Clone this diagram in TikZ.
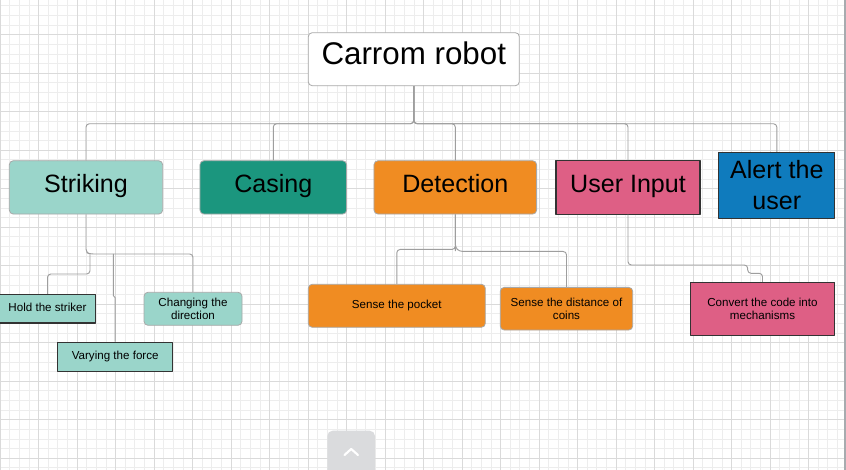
\documentclass[tikz,border=0pt]{standalone}
\usepackage{fontspec}
\setmainfont{Liberation Sans}
\begin{document}
\begin{tikzpicture}
    [x=0.75pt,y=-0.75pt,line join=round,
    % Styles
    grid minor/.style={draw=gridminor,line width=0.5pt},
    grid major/.style={draw=gridmajor,line width=0.6pt},
    branch line/.style={draw=linkgray,line width=0.7pt,rounded corners=2.5pt},
    box/.style={inner sep=0pt,align=center,text=black},
    soft box/.style={box,draw=softgray,line width=0.6pt,rounded corners=3pt},
    hard box/.style={box,draw=hardgray,line width=0.8pt},
    big text/.style={font=\fontsize{18.8}{23}\selectfont,text height=13.5pt,text depth=5.5pt},
    small text/.style={font=\fontsize{8.7}{10}\selectfont},
    one line/.style={text height=6.3pt,text depth=2.85pt}]
    % Colors
    \definecolor{gridminor}{HTML}{EDEDED}
    \definecolor{gridmajor}{HTML}{DADADA}
    \definecolor{linkgray}{HTML}{9E9E9E}
    \definecolor{softgray}{HTML}{A8A8A8}
    \definecolor{hardgray}{HTML}{333333}
    \definecolor{mintcolor}{HTML}{9AD5CA}
    \definecolor{tealcolor}{HTML}{1B967E}
    \definecolor{orangecolor}{HTML}{F08C22}
    \definecolor{pinkcolor}{HTML}{DE5F85}
    \definecolor{bluecolor}{HTML}{0F7BBD}
    \definecolor{buttoncolor}{HTML}{DADBDD}
    \definecolor{barcolor}{HTML}{A7ABAF}
    % The paper
    \useasboundingbox[fill=white] (0,0) rectangle (846,470);
    \foreach \i in {0,...,88}
      \draw[grid minor] ({\i*9.625},0) -- ({\i*9.625},470);
    \foreach \j in {0,...,49}
      \draw[grid minor] (0,{\j*9.625-3.8}) -- (846,{\j*9.625-3.8});
    \foreach \i in {0,...,22}
      \draw[grid major] ({\i*38.5},0) -- ({\i*38.5},470);
    \foreach \j in {1,...,12}
      \draw[grid major] (0,{\j*38.5-3.8}) -- (846,{\j*38.5-3.8});
    % The graphic
    \node[soft box,fill=white,minimum width=158.3pt,minimum height=39.8pt,
      font=\fontsize{23.5}{28}\selectfont,text height=17pt,text depth=8.3pt]
      (root) at (413.8,59.2) {Carrom robot};
    \node[soft box,big text,fill=mintcolor,minimum width=115pt,minimum height=40pt]
      (striking) at (86,187.4) {Striking};
    \node[soft box,big text,fill=tealcolor,minimum width=110pt,minimum height=40pt]
      (casing) at (273.3,187.4) {Casing};
    \node[soft box,big text,fill=orangecolor,minimum width=122pt,minimum height=40pt]
      (detection) at (455.3,187.4) {Detection};
    \node[hard box,big text,fill=pinkcolor,minimum width=108pt,minimum height=40pt]
      (userinput) at (628,187.4) {User Input};
    \node[hard box,font=\fontsize{18.8}{23}\selectfont,fill=bluecolor,
      minimum width=86.8pt,minimum height=49.5pt] (alert) at (776.8,185.3) {Alert the\\user};
    \node[hard box,small text,one line,fill=mintcolor,minimum width=72pt,minimum height=21.5pt]
      (hold) at (47.5,308.7) {Hold the striker};
    \node[hard box,small text,one line,fill=mintcolor,minimum width=86.3pt,minimum height=21.8pt]
      (varying) at (115.2,356.8) {Varying the force};
    \node[soft box,small text,fill=mintcolor,minimum width=73.5pt,minimum height=24.8pt]
      (changing) at (193,308.8) {Changing the\\direction};
    \node[soft box,small text,one line,fill=orangecolor,minimum width=132.8pt,minimum height=32.3pt]
      (pocket) at (396.8,305.8) {Sense the pocket};
    \node[soft box,small text,fill=orangecolor,minimum width=99.3pt,minimum height=32pt]
      (distance) at (566.5,308.7) {Sense the distance of\\coins};
    \node[hard box,small text,fill=pinkcolor,minimum width=108.3pt,minimum height=39.5pt]
      (convert) at (762.5,308.7) {Convert the code into\\mechanisms};
    % Connectors
    \coordinate (sbus) at (90,254);
    \foreach \child in {striking,casing,detection,userinput,alert}
      \draw[branch line] (root.south) -- ++(0,37.6) -| (\child.north);
    \draw[branch line] (striking.south) -- ++(0,38) -- (sbus) -| (changing.north);
    \draw[branch line] (sbus) -- (90,274) -| (hold.north);
    \draw[branch line,rounded corners=0.8pt] (113.3,254) -- (113.3,296.7) -- (115.2,296.7) -- (varying.north);
    \draw[branch line] (detection.south) -- ++(0,33) -- ++(0,2) -| (pocket.north);
    \draw[branch line] (detection.south) -- ++(0,33) -- ++(4,4) -| (distance.north);
    \draw[branch line] (userinput.south) |- (747.7,265) |- (762.5,273.3) -- (convert.north);
    % Window parts
    \fill[barcolor] (844,0) rectangle (846,470);
    \fill[buttoncolor,rounded corners=4pt] (327.3,430.7) rectangle (375,480);
    \draw[white,line width=1.6pt,line cap=round] (344.5,455) -- (351.2,449) -- (358,455);
  \end{tikzpicture}
\end{document}
